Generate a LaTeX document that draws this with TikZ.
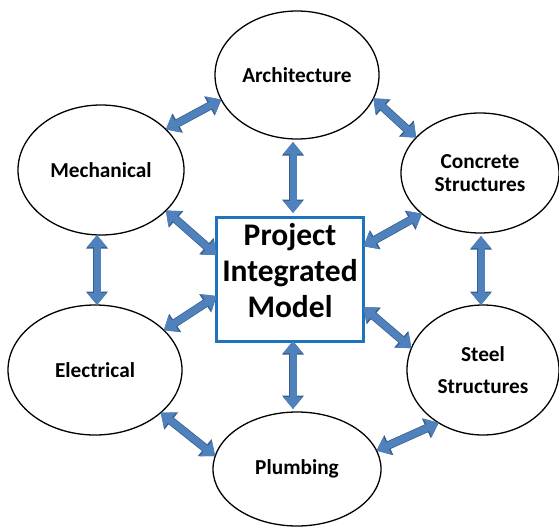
\documentclass[tikz,border=0pt]{standalone}
\usepackage{fontspec}
\setmainfont{Carlito}
\usetikzlibrary{arrows.meta,shapes.geometric,calc}
\definecolor{arrowfill}{HTML}{4F81BD}
\definecolor{arrowedge}{HTML}{385D8A}
\definecolor{boxblue}{RGB}{30,115,190}
\begin{document}
\begin{tikzpicture}[x=1pt,y=-1pt,
  topic/.style={ellipse, draw=black, line width=1.3pt, fill=white, inner sep=0pt, outer sep=0pt,
    font=\fontsize{21.3}{23}\selectfont\bfseries, align=center},
  core/.style={rectangle, draw=boxblue, line width=3pt, fill=white, inner sep=0pt, outer sep=0pt,
    minimum width=147pt, minimum height=124pt},
  coretext/.style={font=\fontsize{31.5}{36}\selectfont\bfseries, align=center, inner sep=0pt},
  link/.style={line width=7pt, draw=arrowfill,
    {Triangle[length=12pt,width=19pt]}-{Triangle[length=12pt,width=19pt]},
    preaction={draw=arrowedge, line width=8.4pt,
      {Triangle[length=13.5pt,width=21pt]}-{Triangle[length=13.5pt,width=21pt]}}}
]
\useasboundingbox (0,0) rectangle (559,530);

\node[topic, minimum width=164pt, minimum height=128pt] (arch) at (297,75) {Architecture};
\node[topic, minimum width=166pt, minimum height=130pt] (mech) at (101,170) {Mechanical};
\node[topic, minimum width=158pt, minimum height=120pt] (conc) at (480,173) {Concrete\\Structures};
\node[topic, minimum width=174pt, minimum height=130pt] (elec) at (95,370) {Electrical};
\node[topic, minimum width=168pt, minimum height=114pt] (plumb) at (297,469) {Plumbing};
\node[topic, minimum width=152pt, minimum height=130pt] (steel) at (483,370) {Steel\\[9pt]Structures};

\node[core] (box) at (290,279) {};
\node[coretext] (boxtext) at ([yshift=8pt]box.center) {Project\\Integrated\\Model};

\draw[link] (arch.198) -- (mech.32);
\draw[link] (arch.343) -- (conc.151);
\draw[link, shorten <=3pt, shorten >=4pt] ([xshift=-4pt]arch.south) -- ([xshift=3pt]box.north);
\draw[link] (mech.328) -- (box.162);
\draw[link] (conc.215) -- (box.24);
\draw[link] ([xshift=-4pt]mech.south) -- ([xshift=2pt]elec.north);
\draw[link, shorten <=3pt] ([xshift=1pt]conc.south) -- ([xshift=-2pt]steel.north);
\draw[link] (elec.30) -- (box.193);
\draw[link] (box.339) -- (steel.163);
\draw[link, shorten >=3pt] ([xshift=3pt]box.south) -- ([xshift=-4pt]plumb.north);
\draw[link] (elec.327) -- (plumb.171);
\draw[link] (steel.230) -- (plumb.13);
\end{tikzpicture}
\end{document}
